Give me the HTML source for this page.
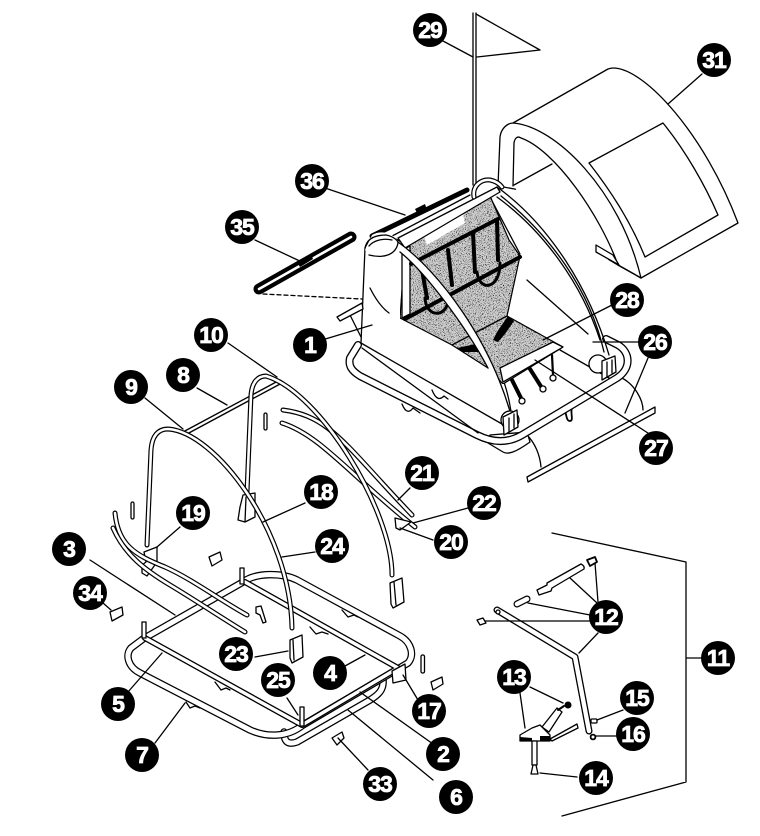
<!DOCTYPE html>
<html><head><meta charset="utf-8"><style>
html,body{margin:0;padding:0;background:#fff}
svg{display:block}
.l{fill:none;stroke:#000;stroke-width:1.3;stroke-linejoin:round;stroke-linecap:round}
.w{fill:#fff;stroke:#000;stroke-width:1.3;stroke-linejoin:round}
.f{fill:#fff;stroke:none}
.o{fill:none;stroke:#000;stroke-linecap:round;stroke-linejoin:round}
.i{fill:none;stroke:#fff;stroke-linecap:round;stroke-linejoin:round}
.b{fill:none;stroke:#000;stroke-width:4;stroke-linecap:round;stroke-linejoin:round}
.k{fill:#000}
text{font-family:"Liberation Sans",sans-serif;font-weight:700;font-size:23px;fill:#fff;stroke:#fff;stroke-width:.8;text-anchor:middle;letter-spacing:-1px}
</style></head><body>
<svg xmlns="http://www.w3.org/2000/svg" width="760" height="836" viewBox="0 0 760 836">
<defs>
<filter id="n" x="0" y="0" width="100%" height="100%">
<feTurbulence type="fractalNoise" baseFrequency="1.1" numOctaves="2" seed="4"/>
<feColorMatrix values="0 0 0 0 0  0 0 0 0 0  0 0 0 0 0  3.2 3.2 0 0 -3.15"/>
<feComposite in2="SourceGraphic" operator="in"/>
<feMerge><feMergeNode in="SourceGraphic"/><feMergeNode/></feMerge>
</filter>
<path id="t1" d="M147,545 L151,450 C152,436 158,429 168,429 C215,432 290,530 292,628"/>
<path id="t2" d="M247,492 L251,395 C252,382 258,376 266,376 C320,392 392,510 392,575"/>
<path id="t3" d="M283,410 C330,416 345,445 412,515"/>
<path id="t4" d="M282,423 C320,435 350,475 415,527"/>
<path id="t5" d="M115,513 C118,545 135,555 165,567 C190,578 220,600 247,615"/>
<path id="t6" d="M113,528 C125,555 145,570 170,585 C195,600 222,618 245,632"/>
<path id="t7" d="M143,639 L131,648 C125,655 128,667 140,673 L250,730 C268,738 288,737 303,725 L408,663 C415,655 411,642 400,636 L297,580 C283,573 257,572 243,582 L143,639"/>
<path id="t8" d="M245,582 L398,668 L302,725 L145,638"/>
<path id="t9" d="M383,680 C384,690 378,695 370,700 L297,742 C288,745 284,742 284,732"/>
<path id="t10" d="M358,345 L350,358 C348,366 352,371 360,376 L477,435 C495,444 510,442 522,435 L617,378 C632,368 630,352 618,345 L606,339"/>
<path id="t11" d="M497,610 L575,657 L589,731"/>
<path id="t13" d="M474,197 C472,185 482,179 490,180 C495,181 499,183 502,187"/>
<path id="t14" d="M259,289 L351,237"/>
<path id="t15" d="M517,604 L527,599"/>
</defs>

<!-- canopy -->
<path class="w" d="M498,186 L500,137 C501,128 508,123 513,123 L608,69 Q611,68 613,68 C645,68 705,135 738,223 L641,278 L618,265 L596,252 L590,230 L520,190 Z"/>
<path class="f" d="M499,187 L520,210 L600,260 L618,272 L560,200 Z"/>
<path class="l" d="M513,123 C555,126 620,190 641,278"/>
<path class="l" d="M513,186 L514,143 C515,137 518,136 521,138 C555,150 600,215 618,265"/>
<path class="f" d="M514,185 L552,164 L600,240 L596,260 L540,240 Z"/>
<path class="l" d="M514,185 L552,164"/>
<path class="l" d="M589,163 L663,123 C685,150 705,185 718,215 L645,257 C630,220 610,190 589,163 Z"/>
<path class="w" d="M596,245 L596,252 L619,265 L613,255 Z"/>
<path class="l" d="M618,265 L641,278"/>

<!-- flag -->
<path class="l" d="M473,13 L473,185 M476,13 L476,185"/>
<path class="l" d="M476,14 L540,50 L477,57"/>

<!-- lower pieces of top unit -->
<path class="f" d="M622,378 C635,385 643,400 643,410 L540,468 C540,455 535,443 527,435 Z"/>
<path class="l" d="M622,378 C635,385 643,400 643,410 M527,435 C535,443 540,455 541,467"/>
<path class="w" d="M488,443 L503,452 C508,455 516,452 530,442 L527,432 L490,435 Z"/>
<path class="w" d="M527,477 L655,407 L655,413 L528,482 Z"/>
<path class="l" d="M564,408 C567,415 566,421 570,421 C574,421 570,412 572,408" style="stroke-width:1.8"/>
<path class="l" d="M402,404 C406,414 410,412 413,408 L420,413 M432,390 C436,400 440,400 444,396 L448,399"/>

<use href="#t10" class="o" stroke-width="8"/><use href="#t10" class="i" stroke-width="5.4"/>

<!-- right side panel -->
<path class="f" d="M497,187 C550,225 590,290 610,365 L563,347 L507,316 L520,254 Z"/>
<path class="l" d="M497,187 C550,225 590,290 609,355"/>
<path class="l" d="M501,196 C550,235 590,290 604,352"/>
<path class="l" d="M497,197 C545,232 582,285 600,340"/>
<path class="l" d="M490,197 L520,254"/>
<path class="l" d="M527,280 L588,334 M560,350 L609,378"/>
<path class="l" d="M593,342 L648,342"/>
<circle class="w" cx="598" cy="364" r="9"/>
<path class="w" d="M602,361 L615,356 L616,372 L602,380 Z"/>
<path class="l" d="M607,362 L607,377 M612,360 L612,373"/>

<!-- body -->
<path class="w" d="M365,248 L361,343 L502,424 L512,424 C510,360 450,270 398,240 C385,233 370,235 365,248 Z"/>

<!-- fabric -->
<path fill="#d2d2d2" stroke="#000" stroke-width="1.2" filter="url(#n)" d="M411,238 L490,196 L509,240 L520,256 L507,316 L563,347 L503,384 L488,368 L452,345 L400,318 L402,290 Z"/>
<path class="w" d="M402,250 L410,246 L410,314 L402,318 Z"/>
<path fill="#fff" d="M424,236 L463,214 L465,223 L427,245 Z"/>
<path class="b" d="M411,264 L498,219 M405,319 L520,257"/>
<path class="b" d="M422,270 L427,298 M448,250 L452,285 M473,233 L475,272 M497,220 L498,260"/>
<path class="b" style="stroke-width:3" d="M425,298 C426,318 447,318 448,300 M477,272 C479,292 500,290 500,263"/>
<path class="k" d="M508,316 L514,321 L505,334 L498,342 L493,340 L497,332 Z M457,348 L480,343 L484,352 L462,352 Z"/>
<path class="l" d="M452,345 L507,316"/>
<path class="w" d="M563,347 L503,382 L500,368 L553,342 Z"/>
<path class="b" d="M512,380 L522,400 M530,369 L542,388" />
<path class="l" d="M552,355 L553,375" style="stroke-width:2.2"/>
<circle class="w" cx="522" cy="401" r="3"/><circle class="w" cx="543" cy="389" r="3"/><circle class="w" cx="553" cy="378" r="3"/>

<!-- rim, arches -->
<path class="w" d="M398,238 L497,187 L500,192 L405,248 Z"/>
<use href="#t13" class="o" stroke-width="5"/><use href="#t13" class="i" stroke-width="2.6"/>
<path class="f" d="M398,242 C440,272 490,340 511,415 L504,420 L488,368 C465,325 425,272 400,252 Z"/>
<path class="l" d="M398,242 C440,272 490,340 511,415"/>
<path class="l" d="M400,252 C425,272 465,325 488,368"/>
<!-- bar 36 -->
<path class="b" style="stroke-width:5" d="M372,236 L467,190"/>
<path class="l" d="M375,245 L470,195"/>
<path class="k" d="M415,209 L425,204 L427,210 L418,215 Z"/>
<path class="f" d="M372,235 C380,230 392,232 398,241 C397,252 385,258 369,254 L365,250 Z"/>
<path class="l" d="M365,248 C367,238 376,235 386,235 C392,236 398,240 398,243 C396,254 385,259 369,255 M369,246 C374,240 384,238 392,240"/>
<path class="l" d="M370,288 C375,298 382,308 389,313 M350,315 L361,337"/>
<path class="w" d="M337,317 L362,303 L363,309 L340,321 Z"/>

<circle class="w" cx="510" cy="420" r="9"/>
<path class="w" d="M503,417 L517,410 L518,427 L504,435 Z"/>
<path class="l" d="M509,418 L509,432 M514,414 L514,428"/>
<path class="l" d="M362,348 L478,433" />

<!-- 35 -->
<use href="#t14" class="o" stroke-width="11"/><use href="#t14" class="i" stroke-width="2.6"/>
<path class="k" d="M297,262 L311,254 L313,259 L300,267 Z"/>
<path class="l" d="M263,294 L362,299" stroke-dasharray="4 3"/>

<!-- frame group: arches and rails -->
<path class="o" d="M185,433 L280,382" stroke-width="5"/><path class="i" d="M185,433 L280,382" stroke-width="2.2"/>
<use href="#t3" class="o" stroke-width="5"/><use href="#t3" class="i" stroke-width="2.6"/>
<use href="#t4" class="o" stroke-width="5"/><use href="#t4" class="i" stroke-width="2.6"/>
<use href="#t2" class="o" stroke-width="5"/><use href="#t2" class="i" stroke-width="2.6"/>
<!-- brackets behind arch 9 -->
<path class="w" d="M243,495 L255,493 L255,517 L245,522 L238,520 L240,507 Z"/>
<path class="l" d="M246,497 L245,522"/>
<path class="w" d="M144,552 L157,547 L157,562 L147,576 L142,573 L142,565 L146,562 Z"/>
<path class="w" d="M390,583 L402,578 L404,602 L393,608 L391,604 Z"/>
<path class="l" d="M394,582 L396,605"/>
<path class="w" d="M411,522 L395,518 L396,528 L400,530 Z"/>

<!-- lower frame -->
<use href="#t9" class="o" stroke-width="7.5"/><use href="#t9" class="i" stroke-width="5"/>
<use href="#t7" class="o" stroke-width="7.5"/><use href="#t7" class="i" stroke-width="5"/>
<use href="#t8" class="o" stroke-width="6"/><use href="#t8" class="i" stroke-width="3.4"/>
<use href="#t5" class="o" stroke-width="5"/><use href="#t5" class="i" stroke-width="2.6"/>
<use href="#t6" class="o" stroke-width="5"/><use href="#t6" class="i" stroke-width="2.6"/>
<use href="#t1" class="o" stroke-width="5"/><use href="#t1" class="i" stroke-width="2.6"/>

<!-- posts -->
<path class="w" d="M142,622 h4 v16 h-4 Z M240,568 h4 v16 h-4 Z M300,707 h4 v19 h-4 Z"/>
<path class="w" d="M392,671 L405,664 L406,680 L393,683 Z"/>
<!-- feet -->
<path class="l" d="M215,682 L221,690 L226,688 L230,690 M186,702 L190,708 L195,706 L200,708 M310,627 L316,634 L322,632 L328,634 M342,610 L348,617 L354,615 L358,617"/>
<path class="w" d="M290,640 L302,635 L303,657 L292,663 L290,658 Z"/>
<path class="l" d="M293,640 L294,660"/>
<!-- clips & pads -->
<rect class="w" x="264" y="413" width="3" height="17" rx="1.5"/>
<rect class="w" x="131" y="502" width="3" height="17" rx="1.5"/>
<rect class="w" x="421" y="655" width="3.5" height="18" rx="1.5"/>
<path class="w" d="M256,607 L261,606 L266,622 L263,623 L260,615 L256,613 Z"/>
<path class="w" d="M209,557 L220,552 L222,560 L212,566 Z"/>
<path class="w" d="M110,612 L122,607 L123,615 L112,621 Z"/>
<path class="w" d="M431,682 L442,677 L443,684 L433,690 Z"/>
<path class="w" d="M332,738 L342,732 L344,738 L337,745 Z"/>

<!-- handle assembly -->
<use href="#t11" class="o" stroke-width="7"/><use href="#t11" class="i" stroke-width="4.4"/>
<circle class="w" cx="498" cy="612" r="2"/>
<path class="w" d="M477,620 L483,618 L486,623 L480,625 Z"/>
<use href="#t15" class="o" stroke-width="7"/><use href="#t15" class="i" stroke-width="4.6"/>
<path class="w" d="M537,590 L547,585 L547,583 L581,564 Q585,566 584,569 L552,588 L551,591 L539,595 Z"/>
<path class="w" d="M587,560 L595,557 L597,562 L590,566 Z" style="stroke-width:1.8"/>
<circle class="w" cx="593" cy="737" r="2.4" style="stroke-width:1.8"/>
<rect class="w" x="591" y="719" width="6" height="4" rx="1"/>
<path class="w" d="M542,727 L557,708 L562,712 L549,732 Z"/>
<path class="w" d="M520,741 L520,735 L532,728 L540,725 L550,735 L550,741 Z"/>
<path class="k" d="M520,737 L520,741 L532,741 L532,738 Z M540,736 L550,736 L550,741 L540,741 Z"/>
<path class="w" d="M550,739 L577,724 L578,728 L552,741 Z"/>
<circle class="k" cx="568" cy="705" r="3.5"/>
<path class="l" d="M558,710 L564,706" style="stroke-width:2"/>
<path class="w" d="M532,741 h5 v24 h-5 Z"/>
<path class="w" d="M533,765 h3 l2,9 h-7 Z"/>

<!-- leader lines -->
<path class="l" d="M443,41 L473,57 M702,74 L668,104 M325,188 L405,215 M255,240 L304,263 M322,340 L372,325
M228,343 L277,377 M197,388 L227,405 M145,398 L183,429 M410,488 L398,500 M468,508 L413,523 M433,540 L400,528
M305,503 L263,522 M180,527 L157,547 M315,552 L282,557 M90,560 L175,615 M103,603 L111,610 M255,657 L288,651
M287,698 L298,715 M345,666 L365,655 M128,692 L162,653 M155,743 L185,703 M418,700 L403,675 M433,744 L360,692
M433,780 L348,710 M368,770 L338,738 M552,533 L686,562 L686,782 L562,816 M686,658 L702,658
M598,602 L595,563 M597,603 L570,578 M590,615 L528,603 M590,621 L485,621 M598,633 L579,653
M520,693 L525,728 M530,687 L563,703 M577,777 L540,773 M623,710 L597,720 M617,736 L596,736
M648,358 L625,413 M651,435 L535,360 M612,305 L543,340" />

<!-- callouts -->
<g class="k">
<circle cx="430" cy="30" r="17"/><circle cx="714" cy="60" r="17"/><circle cx="312" cy="181" r="17"/><circle cx="242" cy="227" r="17"/>
<circle cx="627" cy="300" r="17"/><circle cx="310" cy="345" r="17"/><circle cx="211" cy="335" r="17"/><circle cx="655" cy="342" r="17"/>
<circle cx="183" cy="375" r="17"/><circle cx="131" cy="387" r="17"/><circle cx="656" cy="448" r="17"/><circle cx="422" cy="473" r="17"/>
<circle cx="321" cy="492" r="17"/><circle cx="484" cy="503" r="17"/><circle cx="193" cy="513" r="17"/><circle cx="451" cy="542" r="17"/>
<circle cx="332" cy="546" r="17"/><circle cx="69" cy="549" r="17"/><circle cx="90" cy="593" r="17"/><circle cx="606" cy="617" r="17"/>
<circle cx="236" cy="654" r="17"/><circle cx="718" cy="658" r="17"/><circle cx="330" cy="673" r="17"/><circle cx="514" cy="677" r="17"/>
<circle cx="278" cy="680" r="17"/><circle cx="637" cy="698" r="17"/><circle cx="118" cy="704" r="17"/><circle cx="429" cy="711" r="17"/>
<circle cx="633" cy="734" r="17"/><circle cx="443" cy="754" r="17"/><circle cx="142" cy="755" r="17"/><circle cx="596" cy="778" r="17"/>
<circle cx="380" cy="784" r="17"/><circle cx="456" cy="797" r="17"/>
</g>
<text x="430" y="38">29</text><text x="714" y="68">31</text><text x="312" y="189">36</text><text x="242" y="235">35</text>
<text x="627" y="308">28</text><text x="310" y="353">1</text><text x="211" y="343">10</text><text x="655" y="350">26</text>
<text x="183" y="383">8</text><text x="131" y="395">9</text><text x="656" y="456">27</text><text x="422" y="481">21</text>
<text x="321" y="500">18</text><text x="484" y="511">22</text><text x="193" y="521">19</text><text x="451" y="550">20</text>
<text x="332" y="554">24</text><text x="69" y="557">3</text><text x="90" y="601">34</text><text x="606" y="625">12</text>
<text x="236" y="662">23</text><text x="718" y="666">11</text><text x="330" y="681">4</text><text x="514" y="685">13</text>
<text x="278" y="688">25</text><text x="637" y="706">15</text><text x="118" y="712">5</text><text x="429" y="719">17</text>
<text x="633" y="742">16</text><text x="443" y="762">2</text><text x="142" y="763">7</text><text x="596" y="786">14</text>
<text x="380" y="792">33</text><text x="456" y="805">6</text>
</svg>
</body></html>
